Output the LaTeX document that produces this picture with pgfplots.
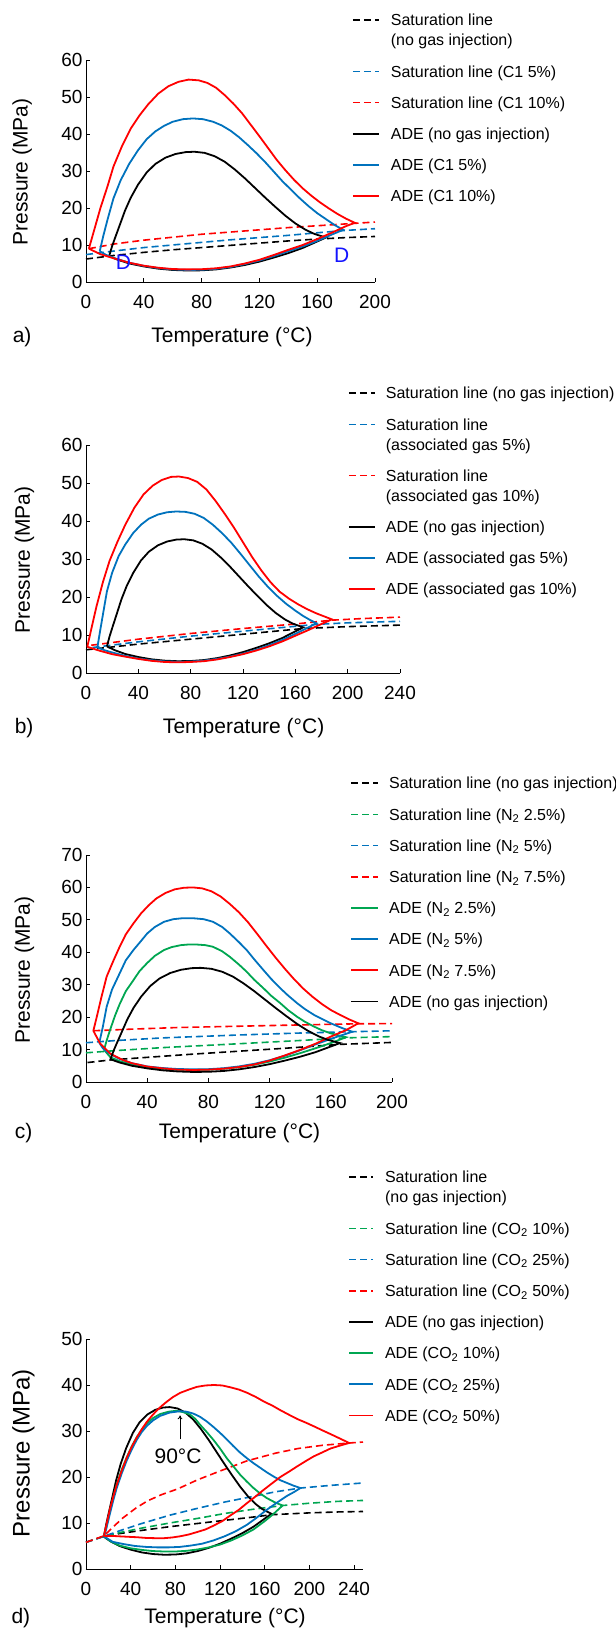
\documentclass[border=0pt]{standalone}
\usepackage{pgfplots}
\pgfplotsset{compat=1.18}
\usepackage{fontspec}
\setmainfont{Liberation Sans}
\usetikzlibrary{arrows.meta}
\definecolor{cblue}{RGB}{0,114,189}
\definecolor{cgreen}{RGB}{0,166,81}
\definecolor{cred}{RGB}{255,0,0}
\definecolor{dblue}{RGB}{20,20,255}
\pgfplotsset{
  panel/.style={
    scale only axis, anchor=south west,
    axis lines=left, axis line style={-, line width=0.8bp},
    tick align=inside, major tick length=4bp,
    tick style={black, line width=0.8bp},
    xmin=0, ymin=0, clip=false,
    /pgf/number format/assume math mode=true,
    tick label style={font=\fontsize{19bp}{22bp}\selectfont},
    xticklabel style={yshift=-10bp},
    label style={font=\fontsize{21bp}{25bp}\selectfont},
    legend cell align=left,
    legend style={draw=none, fill=none, inner sep=0pt, anchor=north west, row sep=18.1bp,
      font=\fontsize{16bp}{20bp}\selectfont, cells={anchor=base west}, nodes={inner sep=0pt}},
  },
  sat/.style={dash pattern=on 7bp off 4bp, line width=1.6bp},
  ade/.style={line width=1.8bp},
  twoline/.style={legend image code/.code={\draw[##1] (0bp,25.7bp) -- (#1,25.7bp);}},
}
\newcommand{\plab}{\fontsize{21bp}{25bp}\selectfont}
\begin{document}
\begin{tikzpicture}
\useasboundingbox (0,0) rectangle (616bp,1634bp);

% ---------------- a) ----------------
\begin{axis}[panel, at={(86bp,1352bp)}, width=289bp, height=222bp,
  xmax=200, ymax=60, xtick={0,40,...,200}, ytick={0,10,...,60},
  xlabel={Temperature (°C)}, ylabel={Pressure (MPa)},
  xlabel style={at={(axis description cs:0.505,-0.248)}, anchor=center},
  ylabel style={at={(axis description cs:-0.221,0.495)}, anchor=center},
  legend style={at={(axis description cs:0.920,1.2068)}, column sep=11bp},
  legend image code/.code={\draw[#1] (0bp,5.7bp) -- (26bp,5.7bp);}]
\addplot[sat, black, twoline=26bp] coordinates {(0,6.2) (20,7.2) (40,8.0) (60,8.7) (80,9.3) (100,9.9) (120,10.5) (140,11.1) (160,11.6) (180,12.0) (200,12.3)};
\addlegendentry{\vbox{\hbox{Saturation line}\hbox{(no gas injection)}}}
\addplot[sat, cblue] coordinates {(0,7.4) (20,8.4) (40,9.3) (60,10.0) (80,10.7) (100,11.4) (120,12.0) (140,12.6) (160,13.3) (180,13.95) (200,14.4)};
\addlegendentry{Saturation line (C1 5\%)}
\addplot[sat, cred] coordinates {(2,9.0) (20,10.3) (40,11.3) (60,12.1) (80,12.9) (100,13.5) (120,14.1) (140,14.7) (160,15.2) (180,15.7) (200,16.2)};
\addlegendentry{Saturation line (C1 10\%)}
\addplot[ade, black] coordinates {(16,7.0) (18,9.6) (20,11.8) (23,15.0) (27,19.3) (31,22.8) (36,26.3) (42,29.6) (48,31.9) (55,33.6) (62,34.6) (69,35.1) (75,35.2) (82,34.9) (89,34.0) (96,32.5) (103,30.4) (110,28.0) (117,25.4) (124,22.8) (131,20.3) (138,17.9) (145,15.8) (152,14.1) (158,13.0) (162,12.5) (166,12.0)
 (158,10.6) (150,9.2) (140,7.8) (130,6.6) (120,5.5) (110,4.6) (100,3.9) (90,3.4) (80,3.15) (70,3.1) (60,3.25) (50,3.6) (40,4.2) (30,5.0) (22,6.0) (16,7.0)};
\addlegendentry{ADE (no gas injection)}
\addplot[ade, cblue] coordinates {(9.5,8.3) (12,12.5) (15,17.0) (19,22.6) (24,27.5) (30,32.0) (36,35.6) (42,38.6) (48,40.7) (54,42.2) (60,43.3) (67,44.0) (74,44.2) (81,44.0) (88,43.3) (94,42.3) (100,40.9) (106,39.1) (112,37.0) (118,34.8) (124,32.4) (130,29.8) (136,27.2) (142,24.9) (148,22.6) (154,20.5) (160,18.6) (166,17.0) (172,15.4) (178,14.1)
 (170,12.8) (160,11.1) (150,9.6) (140,8.3) (130,7.0) (120,5.8) (110,4.85) (100,4.05) (90,3.55) (80,3.3) (70,3.25) (60,3.4) (50,3.75) (40,4.35) (30,5.2) (20,6.4) (14,7.3) (9.5,8.3)};
\addlegendentry{ADE (C1 5\%)}
\addplot[ade, cred] coordinates {(2,9.0) (6,14.5) (10,20.0) (15,26.0) (19,31.2) (25,36.8) (31,41.5) (37,45.0) (43,48.0) (50,50.9) (57,52.9) (64,54.1) (71,54.7) (78,54.5) (84,53.8) (90,52.5) (96,50.5) (102,48.2) (108,45.6) (114,42.5) (120,39.4) (126,36.2) (132,33.0) (138,30.2) (144,27.6) (150,25.3) (156,23.3) (162,21.5) (168,19.9) (174,18.4) (180,17.1) (186,16.0)
 (180,15.1) (170,13.3) (160,11.6) (150,10.0) (140,8.7) (130,7.3) (120,6.0) (110,5.0) (100,4.2) (90,3.7) (80,3.45) (70,3.4) (60,3.5) (50,3.85) (40,4.4) (30,5.2) (20,6.3) (10,7.5) (2,9.0)};
\addlegendentry{ADE (C1 10\%)}
\node[text=dblue, font=\plab] at (axis cs:26,5.4) {D};
\node[text=dblue, font=\plab] at (axis cs:177,7.1) {D};
\node[font=\plab] at (axis description cs:-0.221,-0.248) {a)};
\end{axis}

% ---------------- b) ----------------
\begin{axis}[panel, at={(86bp,961bp)}, width=314bp, height=228bp,
  xmax=240, ymax=60, xtick={0,40,...,240}, ytick={0,10,...,60},
  xlabel={Temperature (°C)}, ylabel={Pressure (MPa)},
  xlabel style={at={(axis description cs:0.502,-0.241)}, anchor=center},
  ylabel style={at={(axis description cs:-0.196,0.496)}, anchor=center},
  legend style={at={(axis description cs:0.834,1.2539)}, column sep=10bp},
  legend image code/.code={\draw[#1] (0bp,5.7bp) -- (26bp,5.7bp);}]
\addplot[sat, black] coordinates {(0,6.1) (40,7.6) (80,8.9) (120,10.2) (166,11.7) (200,12.2) (240,12.6)};
\addlegendentry{Saturation line (no gas injection)}
\addplot[sat, cblue, twoline=26bp] coordinates {(5,6.7) (40,8.2) (80,9.7) (120,11.0) (176,12.8) (200,13.2) (240,13.6)};
\addlegendentry{\vbox{\hbox{Saturation line}\hbox{(associated gas 5\%)}}}
\addplot[sat, cred, twoline=26bp] coordinates {(4,7.3) (40,8.9) (80,10.4) (120,11.7) (160,12.9) (188,13.9) (210,14.3) (240,14.7)};
\addlegendentry{\vbox{\hbox{Saturation line}\hbox{(associated gas 10\%)}}}
\addplot[ade, black] coordinates {(16,7.0) (18,9.6) (20,11.8) (23,15.0) (27,19.3) (31,22.8) (36,26.3) (42,29.6) (48,31.9) (55,33.6) (62,34.6) (69,35.1) (75,35.2) (82,34.9) (89,34.0) (96,32.5) (103,30.4) (110,28.0) (117,25.4) (124,22.8) (131,20.3) (138,17.9) (145,15.8) (152,14.1) (158,13.0) (162,12.5) (166,12.0)
 (158,10.6) (150,9.2) (140,7.8) (130,6.6) (120,5.5) (110,4.6) (100,3.9) (90,3.4) (80,3.15) (70,3.1) (60,3.25) (50,3.6) (40,4.2) (30,5.0) (22,6.0) (16,7.0)};
\addlegendentry{ADE (no gas injection)}
\addplot[ade, cblue] coordinates {(8.7,6.75) (11,11.5) (13.5,16.5) (16,21.5) (20,26.4) (25,30.8) (30,33.8) (36,36.8) (42,39.0) (48,40.6) (55,41.7) (62,42.3) (69,42.5) (76,42.4) (83,41.9) (90,40.8) (97,39.0) (104,36.8) (111,34.3) (118,31.4) (125,28.4) (132,25.4) (139,22.7) (146,20.3) (153,18.2) (160,16.4) (166,15.0) (171,14.0) (176,13.1)
 (170,12.0) (160,10.3) (150,8.7) (140,7.3) (130,6.1) (120,5.1) (110,4.3) (100,3.7) (90,3.25) (80,3.0) (70,2.95) (60,3.05) (50,3.35) (40,3.8) (30,4.5) (20,5.4) (14,6.0) (8.7,6.75)};
\addlegendentry{ADE (associated gas 5\%)}
\addplot[ade, cred] coordinates {(1,6.9) (4,11.5) (8,17.5) (13,24.0) (18,29.5) (24,34.5) (30,39.0) (37,43.5) (44,47.0) (51,49.3) (58,50.8) (65,51.6) (71,51.7) (78,51.3) (85,50.3) (92,48.3) (99,45.3) (106,41.9) (113,38.3) (120,34.4) (127,30.5) (134,27.0) (141,23.9) (148,21.4) (155,19.6) (162,18.1) (169,16.8) (176,15.7) (182,14.9) (188,14.1)
 (180,12.9) (170,11.3) (160,9.8) (150,8.3) (140,7.0) (130,5.9) (120,4.95) (110,4.2) (100,3.55) (90,3.1) (80,2.9) (70,2.8) (60,2.9) (50,3.2) (40,3.7) (30,4.3) (20,4.95) (10,5.9) (1,6.9)};
\addlegendentry{ADE (associated gas 10\%)}
\node[font=\plab] at (axis description cs:-0.197,-0.241) {b)};
\end{axis}

% ---------------- c) ----------------
\begin{axis}[panel, at={(86bp,552bp)}, width=306bp, height=227bp,
  xmax=200, ymax=70, xtick={0,40,...,200}, ytick={0,10,...,70},
  xlabel={Temperature (°C)}, ylabel={Pressure (MPa)},
  xlabel style={at={(axis description cs:0.502,-0.225)}, anchor=center},
  ylabel style={at={(axis description cs:-0.201,0.493)}, anchor=center},
  legend style={at={(axis description cs:0.863,1.3432)}, column sep=10bp},
  legend image code/.code={\draw[#1] (0bp,5.7bp) -- (27bp,5.7bp);}]
\addplot[sat, black] coordinates {(1,6.0) (16,6.8) (40,7.6) (70,8.6) (100,9.5) (130,10.4) (166,11.6) (200,12.2)};
\addlegendentry{Saturation line (no gas injection)}
\addplot[sat, cgreen] coordinates {(0,9.0) (20,9.7) (50,10.6) (100,11.8) (140,12.8) (170,13.6) (200,14.0)};
\addlegendentry{Saturation line (N\textsubscript{2} 2.5\%)}
\addplot[sat, cblue] coordinates {(0,12.1) (20,12.8) (50,13.6) (100,14.5) (140,15.1) (174,15.5) (200,15.8)};
\addlegendentry{Saturation line (N\textsubscript{2} 5\%)}
\addplot[sat, cred] coordinates {(4.8,15.8) (30,16.3) (60,16.8) (100,17.2) (140,17.6) (178,17.95) (200,18.0)};
\addlegendentry{Saturation line (N\textsubscript{2} 7.5\%)}
\addplot[ade, cgreen] coordinates {(11.8,9.9) (13.5,12.8) (15.7,16.0) (19,20.5) (22,24.0) (26,28.0) (31,31.4) (35,34.2) (40,36.7) (45,38.9) (51,40.7) (56,41.6) (62,42.2) (67,42.4) (72,42.4) (78,42.2) (83,41.7) (89,40.3) (94,38.6) (100,36.2) (105,34.0) (110,31.5) (116,28.9) (121,26.6) (127,24.3) (132,22.2) (138,20.1) (143,18.6) (149,17.1) (154,16.0) (160,15.0) (165,14.4) (170,13.8)
 (160,12.0) (150,10.4) (140,8.9) (130,7.5) (120,6.3) (110,5.3) (100,4.6) (90,4.1) (80,3.8) (70,3.7) (60,3.8) (50,4.1) (40,4.6) (30,5.4) (22,6.4) (16,7.6) (11.8,9.9)};
\addlegendentry{ADE (N\textsubscript{2} 2.5\%)}
\addplot[ade, cblue] coordinates {(8.7,12.1) (11,17.0) (13.5,23.2) (17,28.5) (22,33.5) (26,37.5) (31,40.7) (36,43.5) (40,45.8) (45,47.8) (51,49.4) (57,50.2) (63,50.5) (70,50.5) (77,50.2) (83,49.4) (89,47.8) (94,45.8) (100,43.1) (105,40.7) (110,37.8) (116,34.5) (121,31.8) (127,28.9) (132,26.7) (138,24.3) (143,22.5) (149,20.7) (154,19.5) (160,18.1) (167,16.7) (174,15.5)
 (167,14.4) (160,13.3) (150,11.6) (140,9.8) (130,8.1) (120,6.7) (110,5.6) (100,4.8) (90,4.25) (80,3.95) (70,3.9) (60,4.0) (50,4.3) (40,4.8) (30,5.8) (22,7.1) (18,8.1) (13.5,9.4) (11,10.4) (8.7,12.1)};
\addlegendentry{ADE (N\textsubscript{2} 5\%)}
\addplot[ade, cred] coordinates {(4.8,15.8) (7,20.0) (10,26.0) (13.5,32.5) (18,37.5) (22,41.7) (26,45.5) (31,48.9) (36,52.0) (41,54.5) (46,56.6) (52,58.3) (58,59.4) (64,59.9) (70,60.0) (76,59.7) (82,58.8) (88,57.2) (94,54.9) (100,52.3) (106,49.2) (112,45.6) (118,41.9) (124,38.3) (130,34.9) (136,31.7) (142,28.8) (148,26.3) (154,24.1) (160,22.2) (166,20.7) (172,19.3) (178,18.1)
 (170,16.0) (160,14.0) (150,11.8) (140,9.9) (130,8.2) (120,6.6) (110,5.4) (100,4.6) (90,4.1) (80,3.8) (70,3.7) (60,3.8) (50,4.2) (40,4.75) (30,5.8) (24,6.8) (16,8.7) (9.2,11.9) (4.8,15.8)};
\addlegendentry{ADE (N\textsubscript{2} 7.5\%)}
\addplot[ade, black] coordinates {(16,7.0) (18,9.6) (20,11.8) (23,15.0) (27,19.3) (31,22.8) (36,26.3) (42,29.6) (48,31.9) (55,33.6) (62,34.6) (69,35.1) (75,35.2) (82,34.9) (89,34.0) (96,32.5) (103,30.4) (110,28.0) (117,25.4) (124,22.8) (131,20.3) (138,17.9) (145,15.8) (152,14.1) (158,13.0) (162,12.5) (166,12.0)
 (158,10.6) (150,9.2) (140,7.8) (130,6.6) (120,5.5) (110,4.6) (100,3.9) (90,3.4) (80,3.15) (70,3.1) (60,3.25) (50,3.6) (40,4.2) (30,5.0) (22,6.0) (16,7.0)};
\addlegendentry{ADE (no gas injection)}
\node[font=\plab] at (axis description cs:-0.204,-0.225) {c)};
\end{axis}

% ---------------- d) ----------------
\begin{axis}[panel, at={(86bp,65bp)}, width=277bp, height=230bp,
  xmax=248, ymax=50, xtick={0,40,...,240}, ytick={0,10,...,50},
  xlabel={Temperature (°C)}, ylabel={Pressure (MPa)},
  xlabel style={at={(axis description cs:0.502,-0.213)}, anchor=center},
  ylabel style={at={(axis description cs:-0.226,0.504)}, anchor=center, font=\fontsize{24bp}{28bp}\selectfont},
  legend style={at={(axis description cs:0.946,1.730)}, column sep=11bp},
  legend image code/.code={\draw[#1] (0bp,5.7bp) -- (24bp,5.7bp);}]
\addplot[sat, black, twoline=24bp] coordinates {(0,5.8) (16,7.1) (30,7.7) (50,8.4) (75,9.2) (100,9.9) (125,10.6) (150,11.3) (166,11.8) (200,12.2) (225,12.4) (248,12.5)};
\addlegendentry{\vbox{\hbox{Saturation line}\hbox{(no gas injection)}}}
\addplot[sat, cgreen] coordinates {(0,5.8) (16,7.1) (30,7.9) (50,8.9) (75,10.0) (100,11.0) (125,12.1) (150,13.0) (176,13.8) (200,14.3) (225,14.7) (248,14.9)};
\addlegendentry{Saturation line (CO\textsubscript{2} 10\%)}
\addplot[sat, cblue] coordinates {(0,5.8) (16,7.1) (30,8.3) (50,9.9) (75,11.7) (100,13.2) (125,14.6) (150,15.8) (170,16.8) (192,17.6) (220,18.2) (248,18.7)};
\addlegendentry{Saturation line (CO\textsubscript{2} 25\%)}
\addplot[sat, cred] coordinates {(0,5.8) (16,7.2) (25,9.3) (33,11.1) (45,13.3) (55,14.8) (68,16.2) (82,17.4) (100,19.4) (120,21.3) (144,23.5) (170,25.2) (190,26.2) (212,26.9) (236,27.4) (248,27.6)};
\addlegendentry{Saturation line (CO\textsubscript{2} 50\%)}
\addplot[ade, black] coordinates {(16,7.0) (18,9.6) (20,11.8) (23,15.0) (27,19.3) (31,22.8) (36,26.3) (42,29.6) (48,31.9) (55,33.6) (62,34.6) (69,35.1) (75,35.2) (82,34.9) (89,34.0) (96,32.5) (103,30.4) (110,28.0) (117,25.4) (124,22.8) (131,20.3) (138,17.9) (145,15.8) (152,14.1) (158,13.0) (162,12.5) (166,12.0)
 (158,10.6) (150,9.2) (140,7.8) (130,6.6) (120,5.5) (110,4.6) (100,3.9) (90,3.4) (80,3.15) (70,3.1) (60,3.25) (50,3.6) (40,4.2) (30,5.0) (22,6.0) (16,7.0)};
\addlegendentry{ADE (no gas injection)}
\addplot[ade, cgreen] coordinates {(16,7.1) (18,9.0) (21.6,12.8) (24.5,15.6) (27.5,18.4) (32,21.6) (36.5,24.3) (41,26.7) (45.5,28.7) (50,30.3) (54.5,31.6) (60,32.8) (66.5,33.7) (74,34.2) (81,34.4) (87,34.1) (93,33.6) (98,32.6) (102,31.4) (108,29.8) (114,28.1) (120,26.2) (126,24.1) (132,22.3) (138,20.5) (144,19.0) (150,17.6) (156,16.4) (162,15.4) (169,14.5) (176,13.8)
 (168,12.0) (160,10.4) (150,8.6) (140,7.3) (130,6.2) (120,5.3) (110,4.7) (100,4.25) (90,3.95) (80,3.8) (70,3.8) (60,3.9) (50,4.15) (40,4.5) (30,5.1) (22,6.0) (16,7.1)};
\addlegendentry{ADE (CO\textsubscript{2} 10\%)}
\addplot[ade, cblue] coordinates {(16,7.1) (18,8.6) (21.6,12.2) (24.5,15.0) (27.5,17.6) (32,20.8) (36.5,23.6) (41,26.0) (45.5,28.1) (50,29.8) (54.5,31.1) (60,32.3) (66.5,33.3) (75,34.0) (84,34.3) (90,34.2) (96,33.8) (102,33.1) (108,32.1) (114,30.9) (120,29.6) (126,28.2) (132,26.7) (138,25.3) (144,24.1) (150,23.0) (156,22.0) (162,21.0) (168,20.1) (174,19.3) (180,18.7) (186,18.1) (192,17.6)
 (186,16.7) (180,15.9) (172,14.6) (162,12.9) (152,11.0) (144,9.6) (134,8.2) (124,7.1) (114,6.2) (104,5.5) (94,5.1) (84,4.8) (74,4.7) (64,4.7) (54,4.8) (44,5.0) (34,5.4) (24,5.9) (16,7.1)};
\addlegendentry{ADE (CO\textsubscript{2} 25\%)}
\addplot[ade, cred] coordinates {(16,7.2) (18,9.3) (21.6,13.2) (24.5,15.8) (27.5,18.3) (32,21.4) (36.5,24.2) (41,26.6) (45.5,28.6) (50,30.4) (54.5,32.0) (59,33.3) (63.5,34.5) (68,35.5) (72.5,36.4) (78,37.4) (84.4,38.3) (92,39.0) (99.4,39.6) (107,39.9) (114.4,40.0) (122,39.9) (129.3,39.5) (137,39.0) (144.3,38.3) (152,37.4) (159.3,36.4) (167,35.5) (174.2,34.5) (182,33.5) (189.2,32.6) (197,31.8) (204.2,31.0) (212,30.1) (219.2,29.3) (227,28.4) (235.6,27.4)
 (227,26.8) (219,26.2) (212,25.4) (204,24.5) (197,23.5) (189,22.3) (182,21.2) (174,20.0) (167,18.7) (159,17.2) (152,15.8) (144,14.3) (137,12.9) (129,11.6) (122,10.4) (114,9.4) (107,8.6) (99,8.0) (92,7.5) (84,7.1) (77,6.85) (70,6.7) (62,6.7) (54,6.75) (46,6.9) (38,7.0) (30,7.1) (23,7.2) (16,7.2)};
\addlegendentry{ADE (CO\textsubscript{2} 50\%)}
\draw[-{To[length=4bp,width=5bp]}, line width=0.8bp] (axis cs:84.2,28.2) -- (axis cs:84.2,33.4);
\node[font=\plab] at (axis cs:82.4,24.6) {90°C};
\node[font=\plab] at (axis description cs:-0.235,-0.213) {d)};
\end{axis}
\end{tikzpicture}
\end{document}
